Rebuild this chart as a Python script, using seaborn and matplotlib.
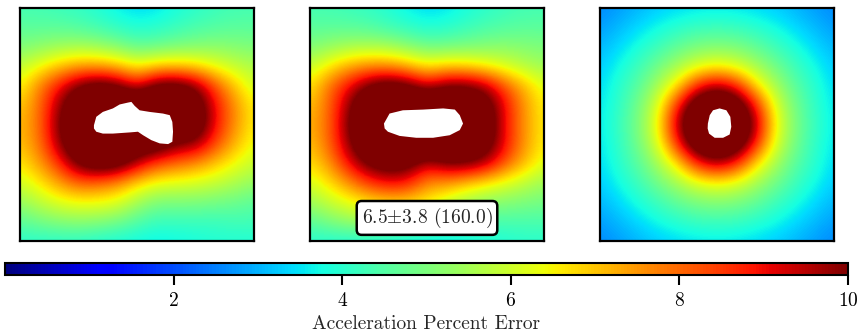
import numpy as np
import matplotlib
matplotlib.use("Agg")
import matplotlib.pyplot as plt
import seaborn as sns

# ---------------- data ----------------
# error fields, sampled on a 13x13 grid (rows top->bottom, cols left->right)
err_left = [
    [4.3, 4.3, 4.2, 4.1, 3.9, 3.6, 3.4, 3.5, 3.8, 4.0, 4.2, 4.3, 4.3],
    [4.6, 4.6, 4.6, 4.5, 4.3, 4.1, 3.9, 4.0, 4.2, 4.4, 4.5, 4.6, 4.6],
    [5.0, 5.2, 5.4, 5.5, 5.4, 5.1, 4.7, 4.8, 5.0, 5.1, 5.2, 5.1, 5.0],
    [5.8, 6.4, 7.0, 7.4, 7.4, 7.1, 6.5, 6.9, 7.0, 6.8, 6.3, 5.9, 5.6],
    [6.4, 7.7, 8.9, 10.1, 10.7, 10.3, 9.0, 10.5, 10.7, 9.95, 8.3, 7.0, 6.0],
    [6.9, 7.9, 9.7, 11.3, 12.0, 12.0, 12.0, 12.0, 11.8, 11.0, 9.0, 7.6, 6.5],
    [7.1, 7.9, 10.0, 11.8, 12.0, 12.0, 12.0, 12.0, 12.0, 11.2, 9.0, 7.6, 6.5],
    [7.0, 7.8, 9.7, 11.5, 12.0, 11.8, 11.2, 11.0, 10.0, 9.8, 8.4, 7.2, 6.3],
    [6.6, 7.4, 8.6, 10.3, 11.0, 10.8, 9.5, 8.4, 8.0, 7.6, 7.0, 6.4, 5.9],
    [6.0, 6.6, 7.4, 8.1, 8.0, 7.6, 6.8, 6.3, 6.2, 6.1, 5.9, 5.6, 5.3],
    [5.3, 5.8, 6.2, 6.4, 6.4, 6.2, 5.5, 5.0, 5.0, 5.0, 4.9, 4.8, 4.6],
    [4.6, 4.9, 5.1, 5.2, 5.1, 4.9, 4.5, 4.2, 4.2, 4.2, 4.2, 4.3, 4.3],
    [4.0, 4.0, 4.0, 4.0, 3.9, 3.8, 3.7, 3.6, 3.7, 3.8, 3.9, 3.9, 3.9],
]
err_mid = [
    [4.3, 4.3, 4.2, 4.1, 3.9, 3.6, 3.4, 3.5, 3.8, 4.0, 4.2, 4.3, 4.3],
    [4.6, 4.6, 4.6, 4.5, 4.3, 4.1, 3.9, 4.0, 4.2, 4.4, 4.5, 4.6, 4.6],
    [5.0, 5.3, 5.5, 5.6, 5.5, 5.2, 4.85, 4.9, 5.0, 5.1, 5.2, 5.1, 5.0],
    [5.9, 6.6, 7.3, 7.6, 7.6, 7.2, 6.6, 6.9, 6.8, 6.5, 6.1, 5.7, 5.4],
    [6.6, 7.9, 9.0, 10.2, 10.8, 10.4, 9.3, 10.1, 10.2, 9.6, 8.2, 7.1, 6.2],
    [7.0, 8.0, 9.8, 11.5, 12.0, 12.0, 12.0, 12.0, 11.5, 10.8, 9.0, 7.5, 6.5],
    [7.2, 8.0, 10.1, 12.0, 12.0, 12.0, 12.0, 12.0, 12.0, 11.2, 8.9, 7.5, 6.5],
    [7.0, 8.0, 9.8, 11.5, 12.0, 12.0, 12.0, 12.0, 11.5, 10.8, 9.0, 7.5, 6.5],
    [6.7, 7.5, 9.0, 10.3, 10.8, 10.6, 9.3, 10.1, 10.2, 9.6, 8.2, 7.1, 6.2],
    [6.1, 6.7, 7.6, 8.5, 9.0, 8.8, 7.6, 7.5, 7.0, 6.6, 6.2, 5.8, 5.4],
    [5.4, 5.9, 6.3, 6.7, 6.9, 6.9, 6.6, 6.0, 5.5, 5.2, 5.1, 5.0, 4.9],
    [4.6, 5.0, 5.3, 5.5, 5.5, 5.4, 5.3, 4.8, 4.5, 4.4, 4.4, 4.4, 4.4],
    [4.0, 3.9, 3.9, 3.8, 3.7, 3.6, 3.5, 3.5, 3.7, 3.8, 3.9, 4.0, 4.0],
]
err_right = [
    [2.6, 2.8, 3.05, 3.25, 3.4, 3.5, 3.55, 3.5, 3.4, 3.25, 3.05, 2.8, 2.6],
    [2.8, 3.1, 3.4, 3.75, 4.0, 4.2, 4.25, 4.2, 4.0, 3.75, 3.4, 3.1, 2.8],
    [3.05, 3.4, 3.85, 4.25, 4.7, 5.0, 5.1, 5.0, 4.7, 4.25, 3.85, 3.4, 3.05],
    [3.25, 3.75, 4.25, 4.9, 5.5, 6.15, 6.45, 6.15, 5.5, 4.9, 4.25, 3.75, 3.25],
    [3.4, 4.0, 4.6, 5.5, 6.75, 8.8, 9.6, 8.8, 6.75, 5.5, 4.6, 4.0, 3.4],
    [3.5, 4.1, 4.9, 6.15, 8.8, 11.2, 12.0, 11.2, 8.8, 6.15, 4.9, 4.1, 3.5],
    [3.55, 4.2, 5.0, 6.45, 9.6, 12.0, 12.0, 12.0, 9.6, 6.45, 5.0, 4.2, 3.55],
    [3.5, 4.1, 4.9, 6.15, 8.8, 11.2, 12.0, 11.2, 8.8, 6.15, 4.9, 4.1, 3.5],
    [3.4, 4.0, 4.6, 5.5, 6.75, 8.8, 9.6, 8.8, 6.75, 5.5, 4.6, 4.0, 3.4],
    [3.25, 3.75, 4.25, 4.9, 5.5, 6.15, 6.45, 6.15, 5.5, 4.9, 4.25, 3.75, 3.25],
    [3.05, 3.4, 3.85, 4.25, 4.7, 5.0, 5.1, 5.0, 4.7, 4.25, 3.85, 3.4, 3.05],
    [2.8, 3.1, 3.4, 3.75, 4.0, 4.2, 4.25, 4.2, 4.0, 3.75, 3.4, 3.1, 2.8],
    [2.6, 2.8, 3.05, 3.25, 3.4, 3.5, 3.55, 3.5, 3.4, 3.25, 3.05, 2.8, 2.6],
]

# body outlines (no data inside the body), fractional coordinates, y downwards
body_left_x = [.316, .326, .354, .397, .426, .461, .476, .490, .511, .554, .611, .640,
               .651, .654, .651, .633, .597, .561, .526, .504, .469, .397, .354, .326, .316]
body_left_y = [.503, .467, .446, .431, .414, .406, .403, .420, .439, .446, .453, .460,
               .489, .531, .574, .584, .581, .567, .546, .531, .534, .539, .539, .531, .517]
body_mid_x = [.316, .340, .397, .483, .569, .619, .640, .654, .640, .597, .526, .454, .383, .333, .319]
body_mid_y = [.496, .453, .439, .436, .431, .436, .460, .496, .524, .546, .557, .557, .549, .531, .517]
body_right_x = [.461, .469, .483, .511, .540, .557, .561, .554, .526, .490, .466, .460]
body_right_y = [.496, .460, .439, .431, .439, .467, .510, .543, .557, .557, .539, .517]

cbar_ticks = [2, 4, 6, 8, 10]
err_min, err_max = 0, 10
stat_mean, stat_std, stat_max = "6.5", "3.8", "160.0"
cbar_label = "Acceleration Percent Error"

# ---------------- style ----------------
sns.set_theme(style="white")
plt.rcParams["font.family"] = "serif"
plt.rcParams["font.serif"] = ["cmr10"]
plt.rcParams["mathtext.fontset"] = "cm"
plt.rcParams["axes.formatter.use_mathtext"] = True

cmap = matplotlib.colormaps["jet"]
FS = 14

W, H = 861, 336
fig = plt.figure(figsize=(W / 100, H / 100), dpi=100)

fields = [err_left, err_mid, err_right]
bodies = [(body_left_x, body_left_y), (body_mid_x, body_mid_y), (body_right_x, body_right_y)]
lefts = [20, 310, 600]
axes = []
im = None
for field, (bx, by), lp in zip(fields, bodies, lefts):
    ax = fig.add_axes([lp / W, 95 / H, 234 / W, 233 / H])
    arr = np.array(field, dtype=float)
    n = arr.shape[0]
    h = 1.0 / (2 * (n - 1))
    im = ax.imshow(arr, cmap=cmap, vmin=err_min, vmax=err_max,
                   interpolation="bicubic", extent=(-h, 1 + h, 1 + h, -h), aspect="auto")
    ax.fill(bx, by, color="white", zorder=3, lw=0)
    ax.set_xlim(0, 1)
    ax.set_ylim(1, 0)
    ax.set_xticks([])
    ax.set_yticks([])
    for s in ax.spines.values():
        s.set_visible(True)
        s.set_color("black")
        s.set_linewidth(1.6)
    axes.append(ax)

axes[1].text(0.5, 0.099, rf"{stat_mean}$\pm${stat_std} ({stat_max})",
             transform=axes[1].transAxes, ha="center", va="center", fontsize=FS, zorder=5,
             bbox=dict(boxstyle="round,pad=0.25", fc="white", ec="black", lw=1.8))

cax = fig.add_axes([5 / W, 61 / H, 843 / W, 12 / H])
cb = fig.colorbar(im, cax=cax, orientation="horizontal", ticks=cbar_ticks)
cb.outline.set_linewidth(1.5)
cb.outline.set_edgecolor("black")
cax.tick_params(axis="x", bottom=True, length=7, width=1.5, labelsize=FS, colors="black", pad=5)
cb.set_label(cbar_label, fontsize=FS, labelpad=4)

fig.savefig("out.png", dpi=100)
